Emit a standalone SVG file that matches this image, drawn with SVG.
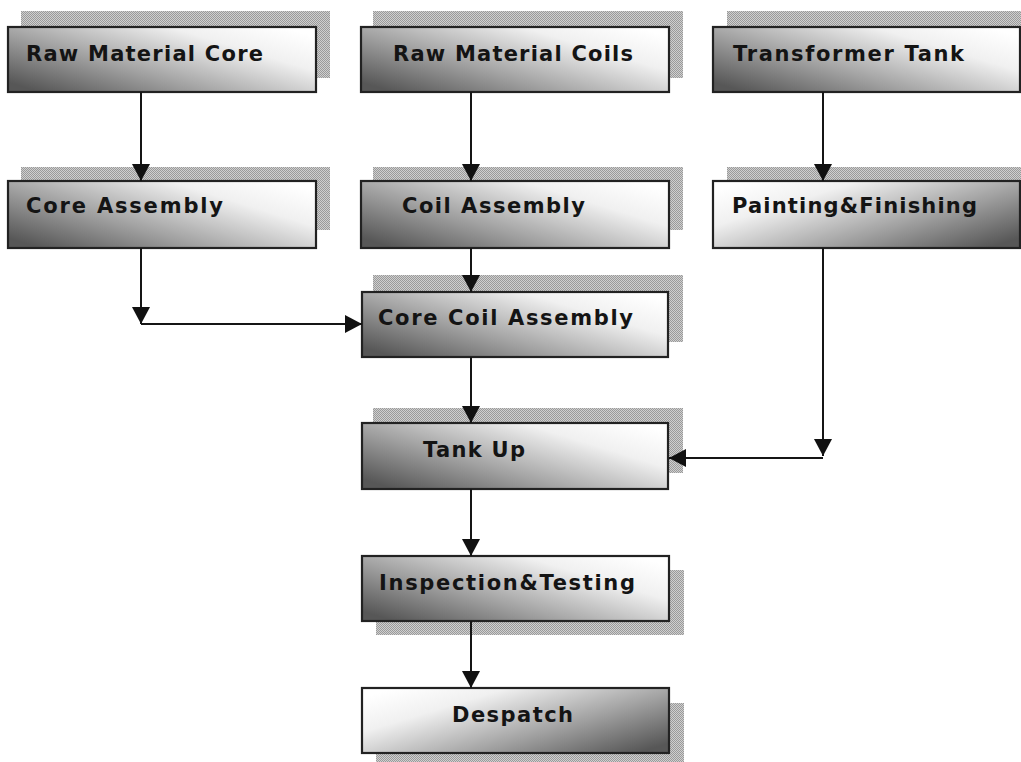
<svg xmlns="http://www.w3.org/2000/svg" width="1021" height="762" viewBox="0 0 1021 762">
<defs>
<pattern id="dots" width="2" height="2" patternUnits="userSpaceOnUse">
<rect width="2" height="2" fill="#cfcfcf"/>
<rect width="1" height="1" fill="#9a9a9a"/>
<rect x="1" y="1" width="1" height="1" fill="#9a9a9a"/>
</pattern>
<linearGradient id="gDark" x1="0" y1="0.85" x2="1" y2="0.15">
<stop offset="0" stop-color="#575757"/>
<stop offset="0.35" stop-color="#a0a0a0"/>
<stop offset="0.75" stop-color="#f0f0f0"/>
<stop offset="1" stop-color="#ffffff"/>
</linearGradient>
<linearGradient id="gLight" x1="0" y1="0.15" x2="1" y2="0.85">
<stop offset="0" stop-color="#ffffff"/>
<stop offset="0.25" stop-color="#f0f0f0"/>
<stop offset="0.65" stop-color="#a0a0a0"/>
<stop offset="1" stop-color="#575757"/>
</linearGradient>
<marker id="arr" markerUnits="userSpaceOnUse" markerWidth="18" markerHeight="18" refX="17" refY="9" orient="auto">
<path d="M0,0 L17,9 L0,18 z" fill="#111"/>
</marker>
</defs>
<style>
.sh{fill:url(#dots)}
.bd{fill:url(#gDark);stroke:#222;stroke-width:2.2}
.bl{fill:url(#gLight);stroke:#222;stroke-width:2.2}
.t{font-family:"DejaVu Sans",Verdana,sans-serif;font-weight:bold;font-size:21px;fill:#141414}
.c{fill:none;stroke:#151515;stroke-width:2}
</style>
<rect width="1021" height="762" fill="#ffffff"/>

<g id="n-raw-core">
<rect class="sh" x="21" y="11" width="309" height="67"/>
<rect class="bd" x="8" y="27" width="308" height="65"/>
<text class="t" x="26" y="61" textLength="237" lengthAdjust="spacing">Raw Material Core</text>
</g>
<g id="n-raw-coils">
<rect class="sh" x="373" y="11" width="310" height="67"/>
<rect class="bd" x="361" y="27" width="308" height="65"/>
<text class="t" x="393" y="61" textLength="240" lengthAdjust="spacing">Raw Material Coils</text>
</g>
<g id="n-tank">
<rect class="sh" x="727" y="11" width="300" height="67"/>
<rect class="bd" x="713" y="27" width="307" height="65"/>
<text class="t" x="733" y="61" textLength="231" lengthAdjust="spacing">Transformer Tank</text>
</g>
<g id="n-core-asm">
<rect class="sh" x="21" y="167" width="309" height="63"/>
<rect class="bd" x="8" y="181" width="308" height="67"/>
<text class="t" x="26" y="213" textLength="197" lengthAdjust="spacing">Core Assembly</text>
</g>
<g id="n-coil-asm">
<rect class="sh" x="373" y="167" width="310" height="63"/>
<rect class="bd" x="361" y="181" width="308" height="67"/>
<text class="t" x="402" y="213" textLength="183" lengthAdjust="spacing">Coil Assembly</text>
</g>
<g id="n-paint">
<rect class="sh" x="727" y="167" width="300" height="63"/>
<rect class="bl" x="713" y="181" width="307" height="67"/>
<text class="t" x="732" y="213" textLength="245" lengthAdjust="spacing">Painting&amp;Finishing</text>
</g>
<g id="n-core-coil">
<rect class="sh" x="373" y="275" width="310" height="67"/>
<rect class="bd" x="362" y="292" width="306" height="65"/>
<text class="t" x="378" y="325" textLength="255" lengthAdjust="spacing">Core Coil Assembly</text>
</g>
<g id="n-tankup">
<rect class="sh" x="373" y="408" width="310" height="65"/>
<rect class="bd" x="362" y="423" width="306" height="66"/>
<text class="t" x="423" y="457" textLength="102" lengthAdjust="spacing">Tank Up</text>
</g>
<g id="n-inspect">
<rect class="sh" x="376" y="570" width="308" height="65"/>
<rect class="bd" x="362" y="556" width="307" height="65"/>
<text class="t" x="379" y="590" textLength="256" lengthAdjust="spacing">Inspection&amp;Testing</text>
</g>
<g id="n-despatch">
<rect class="sh" x="376" y="703" width="308" height="65"/>
<rect class="bl" x="362" y="688" width="307" height="65"/>
<text class="t" x="452" y="722" textLength="121" lengthAdjust="spacing">Despatch</text>
</g>

<g id="connectors">
<path class="c" d="M141,92 V181" marker-end="url(#arr)"/>
<path class="c" d="M471,92 V181" marker-end="url(#arr)"/>
<path class="c" d="M823,92 V181" marker-end="url(#arr)"/>
<path class="c" d="M141,248 V324" marker-end="url(#arr)"/>
<path class="c" d="M141,324 H362" marker-end="url(#arr)"/>
<path class="c" d="M471,248 V292" marker-end="url(#arr)"/>
<path class="c" d="M471,357 V423" marker-end="url(#arr)"/>
<path class="c" d="M823,248 V456" marker-end="url(#arr)"/>
<path class="c" d="M823,458 H669" marker-end="url(#arr)"/>
<path class="c" d="M471,489 V556" marker-end="url(#arr)"/>
<path class="c" d="M471,621 V688" marker-end="url(#arr)"/>
</g>
</svg>
